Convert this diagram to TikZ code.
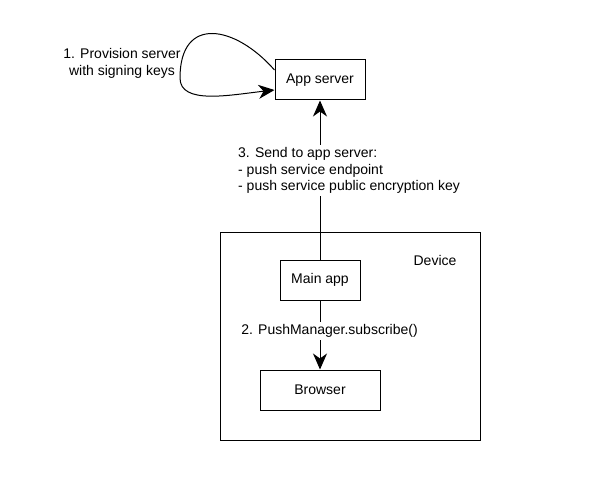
\documentclass[tikz,border=0pt]{standalone}
\usepackage{fontspec}
\setmainfont{Liberation Sans}
\usetikzlibrary{arrows.meta}

\tikzset{
  lbl/.style={font=\fontsize{14pt}{16.8pt}\selectfont, inner sep=0pt},
  box/.style={lbl, draw, line width=1pt, minimum height=40pt},
  arrow/.style={line width=1pt, -{Stealth[length=16pt,width=14pt,inset=5pt]}}
}

\begin{document}
\begin{tikzpicture}[x=1pt, y=-1pt]
  \useasboundingbox (0,0) rectangle (600,500);

  % Drawing box App server
  \node [box, minimum width=90pt] (appserver) at (320,80) {App server};%

  % Drawing box Device
  \node [box, minimum width=260pt, minimum height=208pt] (device) at (350,336) {};%

  % Marking label Device
  \node [lbl] (devicelabel) at (435,260) {Device};%

  % Drawing box Main app
  \node [box, minimum width=80pt] (mainapp) at (320,280) {Main app};%

  % Drawing box Browser
  \node [box, minimum width=120pt] (browser) at (320,390) {Browser};%

  % Drawing loop 1
  \draw [arrow] ([yshift=10pt]appserver.west) .. controls (235,25) and (180,15) .. (180,78)
                .. controls (180,105) and (230,95) .. ([yshift=-10pt]appserver.west);%

  % Marking label 1
  \node [lbl, align=center] (provisionlabel) at (122,63) {1. Provision server\\with signing keys};%

  % Drawing arrow 2
  \draw [arrow] (mainapp.south) -- (browser.north);%

  % Marking label 2
  \node [lbl, fill=white, inner sep=2pt] (subscribelabel) at (329.5,331) {2. PushManager.subscribe()};%

  % Drawing arrow 3
  \draw [arrow] (mainapp.north) -- (appserver.south);%

  % Marking label 3
  \node [lbl, fill=white, inner sep=2pt, anchor=west, align=left] (sendlabel) at (236,170.5)
        {3. Send to app server:\\- push service endpoint\\- push service public encryption key};%
\end{tikzpicture}
\end{document}
